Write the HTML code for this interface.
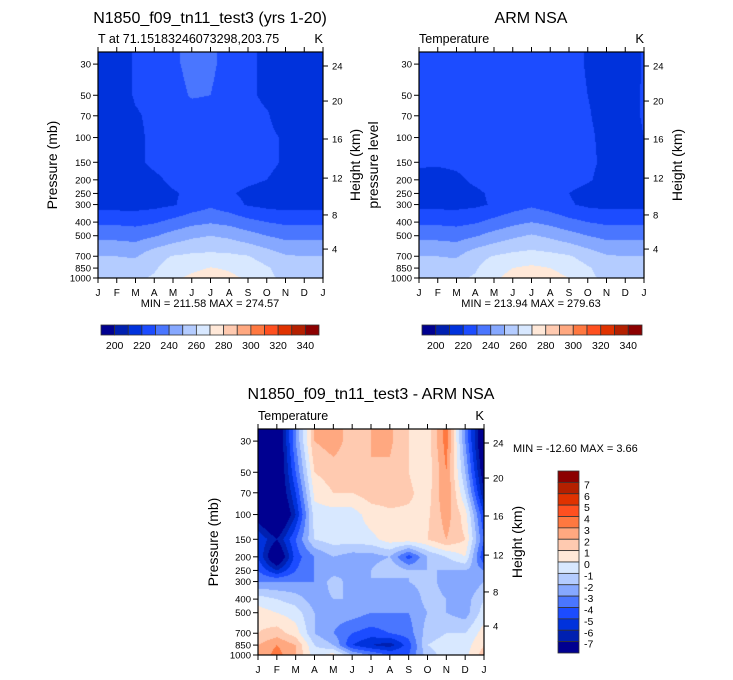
<!DOCTYPE html>
<html><head><meta charset="utf-8">
<style>
body{margin:0;background:#fff;width:733px;height:680px;overflow:hidden;position:relative;font-family:"Liberation Sans",sans-serif}
canvas{position:absolute}
svg{position:absolute;left:0;top:0}
</style></head><body>
<canvas id="c1" width="225" height="226" style="left:98px;top:52px"></canvas>
<canvas id="c2" width="225" height="226" style="left:419px;top:52px"></canvas>
<canvas id="c3" width="226" height="226" style="left:258px;top:429px"></canvas>
<svg id="ov" width="733" height="680"></svg>
<script>
const months=["J","F","M","A","M","J","J","A","S","O","N","D","J"];
const levels=[30,50,70,100,150,200,250,300,400,500,700,850,1000];
const pTicks=[30,50,70,100,150,200,250,300,400,500,700,850,1000];
const hTicks=[24,20,16,12,8,4];
const hFrac=[0.938,0.783,0.615,0.442,0.279,0.128];
const cbLabels1=[200,220,240,260,280,300,320,340];
const cbLabels3=[7,6,5,4,3,2,1,0,-1,-2,-3,-4,-5,-6,-7];
const colors=["#000090","#0020b0","#0032dc","#1c4cff","#4a76ff","#86a8ff","#b4ccff","#d8e8ff","#ffe8d8","#ffcab0","#ffa880","#ff7840","#ff5020","#e03200","#b42000","#8c0000"];
const model=[
[215,215,221,224,228,233,232,226,222,218,215,214,215],
[215,215,221,223,226,231,230,225,222,218,215,214,215],
[215,215,219,222,224,225,225,224,223,221,215,214,215],
[214,214,218,222,224,225,225,224,223,222,219,214,214],
[214,214,218,222,224,225,225,224,223,222,219,214,214],
[214,214,215,218,222,225,225,224,222,220,217,214,214],
[214,214,215,217,219,222,224,221,218,216,215,214,214],
[216,216,216,217,219,224,228,224,219,217,216,216,216],
[228,228,227,229,233,237,239,237,233,230,228,228,228],
[237,237,236,239,244,248,250,248,244,240,237,237,237],
[250,250,249,257,260.5,262,262.5,262,260.5,256,251,250,250],
[254,254,255,259,264,268,270.5,269,265,261,256,254,254],
[256,256,258.5,261,268,272,274,272,269,262,258,256,256]];
const obs=[
[223,223,223,224,225,226,227,226,224,219,215,215,221],
[223,223,223,224,225,226,226,225,224,220,216,216,221],
[222,222,223,224,225,226,226,225,224,221,216,216,221],
[222,222,223,224,225,226,226,225,224,222,217,216,220],
[221,221,222,224,225,226,226,225,224,222,218,216,219],
[218,217,218,222,224,225,225,224,223,221,217,216,218],
[216,216,216,218,222,224,225,223,220,217,216,216,216],
[217,217,217,218,221,225,228,225,221,218,217,217,217],
[228,228,227,229,233,237,240,237,233,230,228,228,228],
[237,237,236,239,244,248,251,248,244,240,237,237,237],
[250,250,249,257,260.5,263,264,263,261,256,251,250,250],
[254,254,255,259,265,270,272,270,266,261,256,254,254],
[256,256,258.5,261,268,274,277,274,270,262,258,256,256]];
const diff=[
[-9,-9,-3,2,2.5,1.5,2,2.2,1,0.5,3.5,-3,-9],
[-9,-9,-4,1,1.5,1.5,2,1.8,1,0.3,3,-2,-8],
[-9,-9,-5,0.3,1,1,1.5,1.5,1.2,0.5,3,-1,-7],
[-8,-10,-6,-0.5,-0.5,-0.5,0.5,0.8,0.8,0.8,2.5,0.5,-5],
[-5,-7,-4,-1,-0.5,-0.5,-0.3,0.5,0.6,1,2,1,-4],
[-5,-9,-4.5,-3,-2,-2.5,-2.5,-2,-4.5,-2,-1,0,-5],
[-4,-6,-4,-3,-2.5,-2,-2,-1,-2,-2,-2,-2,-3],
[-3,-3,-3,-3,-1.5,-2.5,-2,-2.5,-2,-1.5,-2.5,-3,-2],
[-0.5,-1,-1.5,-2.5,-2,-2,-2,-2.5,-3,-1.5,-2,-2.5,-1],
[0.5,0,-0.5,-2,-2.5,-2.5,-3,-3,-3,-2,-2,-2.5,-0.5],
[1,1.5,0.5,-2,-3,-4,-4.5,-4,-3.5,-1.5,-1,-1,0.5],
[2,3,2,-1,-2,-5,-6,-6.5,-4.5,-1,-0.5,-0.5,1],
[2,3.5,2,-0.5,0.5,-2,-3,-4,-4,-1.5,-0.5,-0.3,1.5]];

const PTOP=24.6;
function yOfP(p,top,h){return top+h-h*Math.log(1000/p)/Math.log(1000/PTOP);}
function xOfM(i,left,w){return left+w*i/12;}
function binModel(v){return Math.max(0,Math.min(15,Math.floor((v-190)/10)));}
function binDiff(v){return Math.max(0,Math.min(15,Math.floor(v+8)));}
function sample(grid,m,p){
  if(p<levels[0])p=levels[0];
  let k=0;while(k<levels.length-2&&p>levels[k+1])k++;
  let t=(Math.log(p)-Math.log(levels[k]))/(Math.log(levels[k+1])-Math.log(levels[k]));
  t=Math.max(0,Math.min(1,t));
  let i=Math.min(11,Math.floor(m)),s=m-i;
  const a=grid[k][i]*(1-s)+grid[k][i+1]*s,b=grid[k+1][i]*(1-s)+grid[k+1][i+1]*s;
  return a*(1-t)+b*t;
}
function paint(id,grid,bin){
  const c=document.getElementById(id),ctx=c.getContext('2d'),W=c.width,H=c.height;
  const img=ctx.createImageData(W,H);
  const rgb=colors.map(h=>[parseInt(h.substr(1,2),16),parseInt(h.substr(3,2),16),parseInt(h.substr(5,2),16)]);
  for(let y=0;y<H;y++){const p=1000*Math.exp(-(H-y-0.5)/H*Math.log(1000/PTOP));
    for(let x=0;x<W;x++){const m=12*(x+0.5)/W;const col=rgb[bin(sample(grid,m,p))];
      const o=(y*W+x)*4;img.data[o]=col[0];img.data[o+1]=col[1];img.data[o+2]=col[2];img.data[o+3]=255;}}
  ctx.putImageData(img,0,0);
}
paint('c1',model,binModel);paint('c2',obs,binModel);paint('c3',diff,binDiff);

const NS="http://www.w3.org/2000/svg",ov=document.getElementById('ov');
function el(tag,attrs,txt){const e=document.createElementNS(NS,tag);for(const k in attrs)e.setAttribute(k,attrs[k]);if(txt!==undefined)e.textContent=txt;ov.appendChild(e);return e;}
function frame(L,T,W,H,name){
  const f=el('rect',{x:L,y:T,width:W,height:H,fill:'none',stroke:'#000','stroke-width':1.2});
  
  
  for(let i=0;i<=12;i++){const x=xOfM(i,L,W);
    el('line',{x1:x,x2:x,y1:T,y2:T-5,stroke:'#000'});
    el('line',{x1:x,x2:x,y1:T+H,y2:T+H+5,stroke:'#000'});
    const t=el('text',{x:x,y:T+H+18,'font-size':10,'text-anchor':'middle'},months[i]);
    
    }
  pTicks.forEach(p=>{const y=yOfP(p,T,H);
    el('line',{x1:L,x2:L-5,y1:y,y2:y,stroke:'#000'});
    const t=el('text',{x:L-7,y:y+3.5,'font-size':9.5,'text-anchor':'end'},p);
    
    });
  hTicks.forEach((z,i)=>{const y=T+H-H*hFrac[i];
    el('line',{x1:L+W,x2:L+W+5,y1:y,y2:y,stroke:'#000'});
    const t=el('text',{x:L+W+9,y:y+3.5,'font-size':9.5},z);
    
    });
}
function rotText(x,y,txt,name,fs){const t=el('text',{x:0,y:0,'font-size':fs||14,'text-anchor':'middle',transform:`translate(${x},${y}) rotate(-90)`},txt);
  
  }
function txt(x,y,s,fs,anchor,name){const t=el('text',{x:x,y:y,'font-size':fs,'text-anchor':anchor||'start'},s);
  
  }

frame(98,52,225,226,'model');
frame(419,52,225,226,'obs');
frame(258,429,226,226,'diff');

txt(210,23,"N1850_f09_tn11_test3 (yrs 1-20)",16,'middle','model-title');
txt(98,43,"T at 71.15183246073298,203.75",12.5,'start','model-subtitle');
txt(323,43,"K",13,'end','model-units');
rotText(57,165,"Pressure (mb)",'model-y-axis-title');
rotText(360,165,"Height (km)",'model-right-axis-title');
txt(210,307,"MIN = 211.58 MAX = 274.57",11,'middle','model-min-max');

txt(531,23,"ARM NSA",16,'middle','obs-title');
txt(419,43,"Temperature",12.5,'start','obs-subtitle');
txt(644,43,"K",13,'end','obs-units');
rotText(378,165,"pressure level",'obs-y-axis-title');
rotText(682,165,"Height (km)",'obs-right-axis-title');
txt(531,307,"MIN = 213.94 MAX = 279.63",11,'middle','obs-min-max');

txt(371,399,"N1850_f09_tn11_test3 - ARM NSA",16,'middle','diff-title');
txt(258,420,"Temperature",12.5,'start','diff-subtitle');
txt(484,420,"K",13,'end','diff-units');
rotText(218,542,"Pressure (mb)",'diff-y-axis-title');
rotText(522,542,"Height (km)",'diff-right-axis-title');
txt(513,452,"MIN = -12.60 MAX =   3.66",11,'start','diff-min-max');

function hbar(L,T,W,H,name){const bw=W/16;
  for(let i=0;i<16;i++){const r=el('rect',{x:L+i*bw,y:T,width:bw,height:H,fill:colors[i],stroke:'#333','stroke-width':0.8});
    
    }
  cbLabels1.forEach((v,i)=>{const b=1+2*i;txt(L+b*bw,T+H+14,v,10.5,'middle',name+'-label');});
}
hbar(101,325,218,10,'model-colorbar');
hbar(422,325,220,10,'obs-colorbar');
(function(){const L=558,T=471,W=21,H=182,bh=H/16;
  for(let i=0;i<16;i++){const r=el('rect',{x:L,y:T+i*bh,width:W,height:bh,fill:colors[15-i],stroke:'#333','stroke-width':0.8});
    
    }
  cbLabels3.forEach((v,i)=>{txt(L+W+5,T+(i+1)*bh+6,v,10.5,'start','diff-colorbar-label');});
})();
</script>
</body></html>
